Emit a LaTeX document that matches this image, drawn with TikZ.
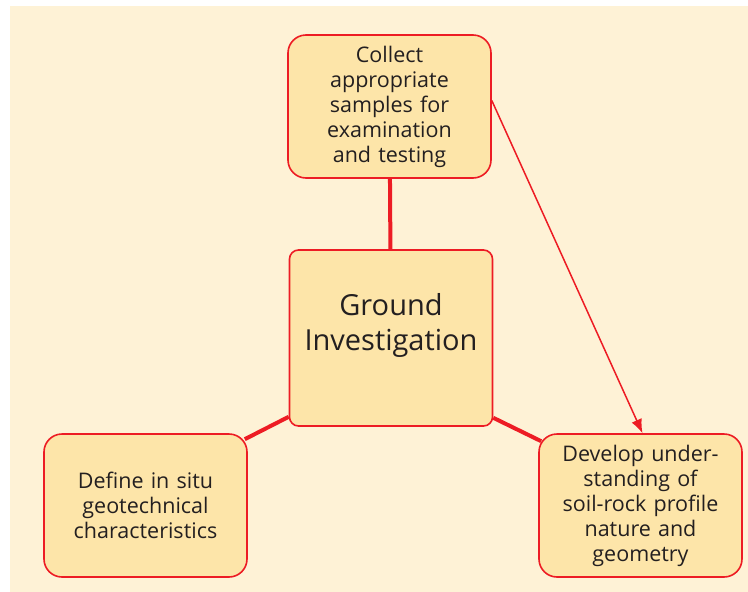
\documentclass[tikz,border=0pt]{standalone}
\usepackage{fontspec}
\setmainfont{Open Sans}
\usepackage{tikz}
\usetikzlibrary{arrows.meta}

\definecolor{bgcream}{HTML}{FEF2D6}
\definecolor{boxfill}{HTML}{FDE5A9}
\definecolor{boxred}{HTML}{ED1C24}
\definecolor{inkgray}{HTML}{231F20}

\tikzset{
  stagebox/.style={draw=boxred, line width=1.6pt, fill=boxfill, text=inkgray,
    rounded corners=18pt, minimum width=203pt, minimum height=143pt,
    text width=195pt, align=center, inner sep=0pt,
    font=\fontsize{21.5}{25}\selectfont},
  hubbox/.style={stagebox, rounded corners=9pt, minimum height=176pt,
    font=\fontsize{29}{35}\selectfont},
  spoke/.style={draw=boxred, line width=4pt},
  flow/.style={draw=boxred, line width=1.5pt, -{Latex[length=14pt,width=11pt]}}
}

\begin{document}
\begin{tikzpicture}[x=1pt,y=-1pt]

  % Background
  \useasboundingbox (0,0) rectangle (748,592);
  \fill[bgcream] (10,6) rectangle (748,592);

  % Define nodes
  \node[hubbox]   (gi)      at (391,338)   {Ground\\ Investigation\\[-14pt]\strut};
  \node[stagebox] (collect) at (389.5,106.5) {Collect\\ appropriate\\ samples for\\ examination\\ and testing};
  \node[stagebox] (define)  at (145.5,505.5) {Define in situ\\ geotechnical\\ characteristics};
  \node[stagebox] (develop) at (640.5,505.5) {Develop under-\\ standing of\\ soil-rock profile\\ nature and\\ geometry};

  % Links
  \draw[spoke] (collect) -- (gi);
  \draw[spoke] ([yshift=10pt]gi.south west) -- ([xshift=-3pt,yshift=-6pt]define.north east);
  \draw[spoke] ([yshift=9pt]gi.south east) -- ([xshift=3pt,yshift=-8pt]develop.north west);
  \draw[flow] ([yshift=6pt]collect.east) -- ([xshift=2pt]develop.north);

\end{tikzpicture}
\end{document}
